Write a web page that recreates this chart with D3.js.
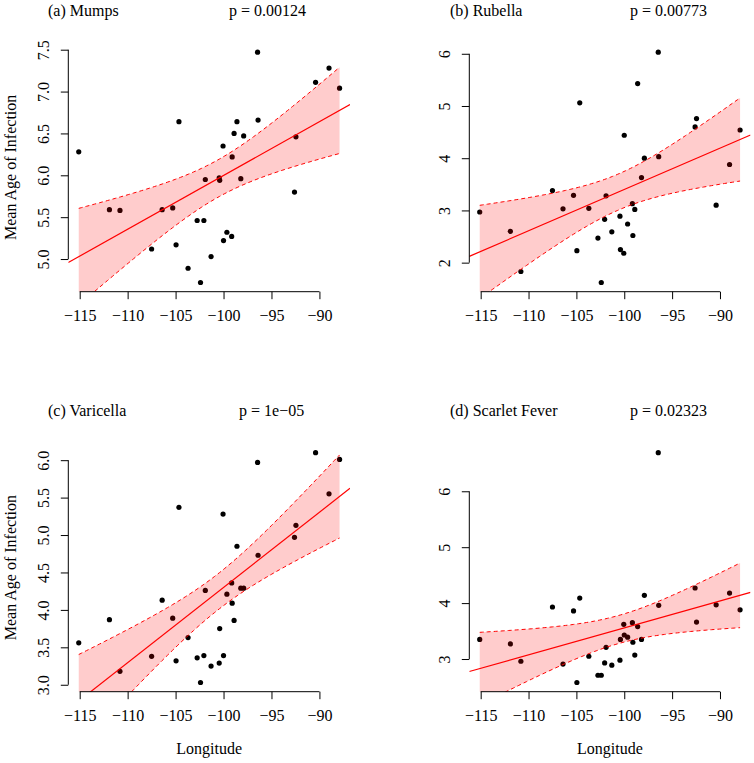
<!DOCTYPE html>
<html>
<head>
<meta charset="utf-8">
<script src="https://cdn.jsdelivr.net/npm/d3@7"></script>
<style>
  html, body { margin: 0; padding: 0; background: #fff; }
  svg { display: block; }
  text { font-family: "Liberation Serif", "Times New Roman", serif; fill: #000; }
</style>
</head>
<body>
<svg id="chart" width="754" height="763"></svg>
<script>
// ---- Data ----
const longitude = [-115.1, -111.9, -110.8, -107.5, -106.4, -105.3, -104.95, -104.65,
  -103.7, -102.75, -102.4, -102.05, -101.9, -101.3, -100.45, -100.4,
  -100.05, -100.0, -99.65, -99.15, -99.1, -98.9, -98.6, -98.2,
  -97.9, -96.45, -96.4, -92.6, -92.45, -90.4, -89.0, -87.9];

const mumps = [6.28, 5.59, 5.58, 5.12, 5.59, 5.61, 5.17, 6.64,
  4.89, 5.46, 4.72, 5.46, 5.95, 5.03, 5.97, 5.94,
  6.35, 5.22, 5.32, 5.27, 6.22, 6.50, 6.64, 5.96,
  6.47, 7.47, 6.66, 5.80, 6.46, 7.11, 7.28, 7.04];

const rubella = [2.97, 2.60, 1.83, 3.38, 3.03, 3.29, 2.23, 5.06,
  3.04, 2.47, 1.62, 2.83, 3.28, 2.59, 2.89, 2.25,
  2.18, 4.44, 2.74, 3.13, 2.52, 3.02, 5.43, 3.63,
  4.00, 6.03, 4.03, 4.60, 4.76, 3.10, 3.88, 4.54];

const varicella = [3.56, 3.87, 3.18, 3.38, 4.13, 3.89, 3.32, 5.37,
  3.63, 3.36, 3.03, 3.39, 4.26, 3.25, 3.29, 3.75,
  5.28, 3.39, 4.21, 4.36, 4.09, 3.86, 4.85, 4.29,
  4.29, 5.97, 4.73, 4.97, 5.13, 6.10, 5.55, 6.01];

const scarletFever = [3.35, 3.27, 2.96, 3.93, 2.91, 3.86, 2.58, 4.09,
  3.05, 2.71, 2.71, 2.93, 3.21, 2.89, 2.98, 3.35,
  3.62, 3.43, 3.39, 3.65, 3.30, 3.07, 3.58, 3.35,
  4.14, 6.69, 3.96, 4.27, 3.66, 3.97, 4.18, 3.88];

const panelTitles = ["(a) Mumps", "(b) Rubella", "(c) Varicella", "(d) Scarlet Fever"];
const pLabels = ["p = 0.00124", "p = 0.00773", "p = 1e\u221205", "p = 0.02323"];
const xTicks = [-115, -110, -105, -100, -95, -90];
const yTicksMumps = [5.0, 5.5, 6.0, 6.5, 7.0, 7.5];
const yTicksRubella = [2, 3, 4, 5, 6];
const yTicksVaricella = [3.0, 3.5, 4.0, 4.5, 5.0, 5.5, 6.0];
const yTicksScarlet = [3, 4, 5, 6];
const xLabel = "Longitude";
const yLabel = "Mean Age of Infection";

// ---- Layout ----
const panels = [
  { vals: mumps,        title: 0, yTicks: yTicksMumps,     yFmt: d3.format(".1f"), left: 68.3,  top: 43,    right: 350,   bottom: 291.7, titleX: 48,  pX: 229, col: 0, row: 0 },
  { vals: rubella,      title: 1, yTicks: yTicksRubella,   yFmt: d3.format("d"),   left: 469.3, top: 43,    right: 750.5, bottom: 291.7, titleX: 450, pX: 630, col: 1, row: 0 },
  { vals: varicella,    title: 2, yTicks: yTicksVaricella, yFmt: d3.format(".1f"), left: 68.3,  top: 443.5, right: 350,   bottom: 691.7, titleX: 48,  pX: 239, col: 0, row: 1 },
  { vals: scarletFever, title: 3, yTicks: yTicksScarlet,   yFmt: d3.format("d"),   left: 469.3, top: 443.5, right: 750.5, bottom: 691.7, titleX: 450, pX: 630, col: 1, row: 1 }
];

const svg = d3.select("#chart");
const tCrit = 2.042; // t(0.975, df = 30)

function padExtent(arr) {
  const [lo, hi] = d3.extent(arr);
  const r = hi - lo;
  return [lo - 0.04 * r, hi + 0.04 * r];
}

panels.forEach((p, i) => {
  const g = svg.append("g");
  const x = d3.scaleLinear().domain(padExtent(longitude)).range([p.left, p.right]);
  const y = d3.scaleLinear().domain(padExtent(p.vals)).range([p.bottom, p.top]);

  const clipId = "clip" + i;
  svg.append("clipPath").attr("id", clipId).append("rect")
    .attr("x", p.left).attr("y", p.top)
    .attr("width", p.right - p.left).attr("height", p.bottom - p.top);

  // regression
  const n = longitude.length;
  const mx = d3.mean(longitude), my = d3.mean(p.vals);
  let sxx = 0, sxy = 0;
  for (let k = 0; k < n; k++) {
    sxx += (longitude[k] - mx) ** 2;
    sxy += (longitude[k] - mx) * (p.vals[k] - my);
  }
  const b = sxy / sxx, a = my - b * mx;
  let sse = 0;
  for (let k = 0; k < n; k++) sse += (p.vals[k] - (a + b * longitude[k])) ** 2;
  const s = Math.sqrt(sse / (n - 2));

  const [lx0, lx1] = d3.extent(longitude);
  const grid = d3.range(0, 101).map(j => lx0 + (lx1 - lx0) * j / 100);
  const band = grid.map(xv => {
    const fit = a + b * xv;
    const se = s * Math.sqrt(1 / n + (xv - mx) ** 2 / sxx);
    return { x: xv, lo: fit - tCrit * se, hi: fit + tCrit * se };
  });

  const plotArea = g.append("g").attr("clip-path", `url(#${clipId})`);

  // points
  plotArea.selectAll("circle").data(longitude.map((lon, k) => ({ lon, v: p.vals[k] })))
    .join("circle")
    .attr("cx", d => x(d.lon)).attr("cy", d => y(d.v)).attr("r", 2.6)
    .attr("fill", "#000");

  // band
  plotArea.append("path").datum(band)
    .attr("d", d3.area().x(d => x(d.x)).y0(d => y(d.lo)).y1(d => y(d.hi)))
    .attr("fill", "rgba(255,0,0,0.2)").attr("stroke", "none");
  ["lo", "hi"].forEach(key => {
    plotArea.append("path").datum(band)
      .attr("d", d3.line().x(d => x(d.x)).y(d => y(d[key])))
      .attr("fill", "none").attr("stroke", "#ff0000").attr("stroke-width", 1)
      .attr("stroke-dasharray", "4,3");
  });

  // fitted line across the plot region
  const [dx0, dx1] = x.domain();
  plotArea.append("line")
    .attr("x1", x(dx0)).attr("y1", y(a + b * dx0))
    .attr("x2", x(dx1)).attr("y2", y(a + b * dx1))
    .attr("stroke", "#ff0000").attr("stroke-width", 1.2);

  // x axis
  const xAxis = g.append("g").attr("transform", `translate(0,${p.bottom})`)
    .call(d3.axisBottom(x).tickValues(xTicks).tickSizeOuter(0).tickSize(7.5).tickPadding(5)
      .tickFormat(d3.format("d")));
  xAxis.select(".domain").attr("d", `M${x(xTicks[0])},0H${x(xTicks[xTicks.length - 1])}`);
  xAxis.selectAll("line, path").attr("stroke", "#000").attr("stroke-width", 1);
  xAxis.selectAll("text").attr("font-family", "Liberation Serif, serif").attr("font-size", 16)
    .attr("y", 0).attr("dy", 0).attr("transform", "translate(0,29.5)").attr("fill", "#000");

  // y axis
  const yAxis = g.append("g").attr("transform", `translate(${p.left},0)`)
    .call(d3.axisLeft(y).tickValues(p.yTicks).tickSizeOuter(0).tickSize(7.5).tickFormat(p.yFmt));
  yAxis.select(".domain").attr("d", `M0,${y(p.yTicks[0])}V${y(p.yTicks[p.yTicks.length - 1])}`);
  yAxis.selectAll("line, path").attr("stroke", "#000").attr("stroke-width", 1);
  yAxis.selectAll(".tick text")
    .attr("font-family", "Liberation Serif, serif").attr("font-size", 16).attr("fill", "#000")
    .attr("x", 0).attr("y", 0).attr("dy", 0)
    .attr("text-anchor", "middle")
    .attr("transform", "translate(-19.5,0) rotate(-90)");

  // titles
  const titleY = p.row === 0 ? 16 : 416;
  g.append("text").attr("x", p.titleX).attr("y", titleY).attr("font-size", 16).text(panelTitles[p.title]);
  g.append("text").attr("x", p.pX).attr("y", titleY).attr("font-size", 16).text(pLabels[p.title]);

  if (p.row === 1) {
    g.append("text").attr("x", (p.left + p.right) / 2).attr("y", 754)
      .attr("text-anchor", "middle").attr("font-size", 16).text(xLabel);
  }
  if (p.col === 0) {
    g.append("text")
      .attr("transform", `translate(16,${(p.top + p.bottom) / 2}) rotate(-90)`)
      .attr("text-anchor", "middle").attr("font-size", 16).text(yLabel);
  }
});
</script>
</body>
</html>
